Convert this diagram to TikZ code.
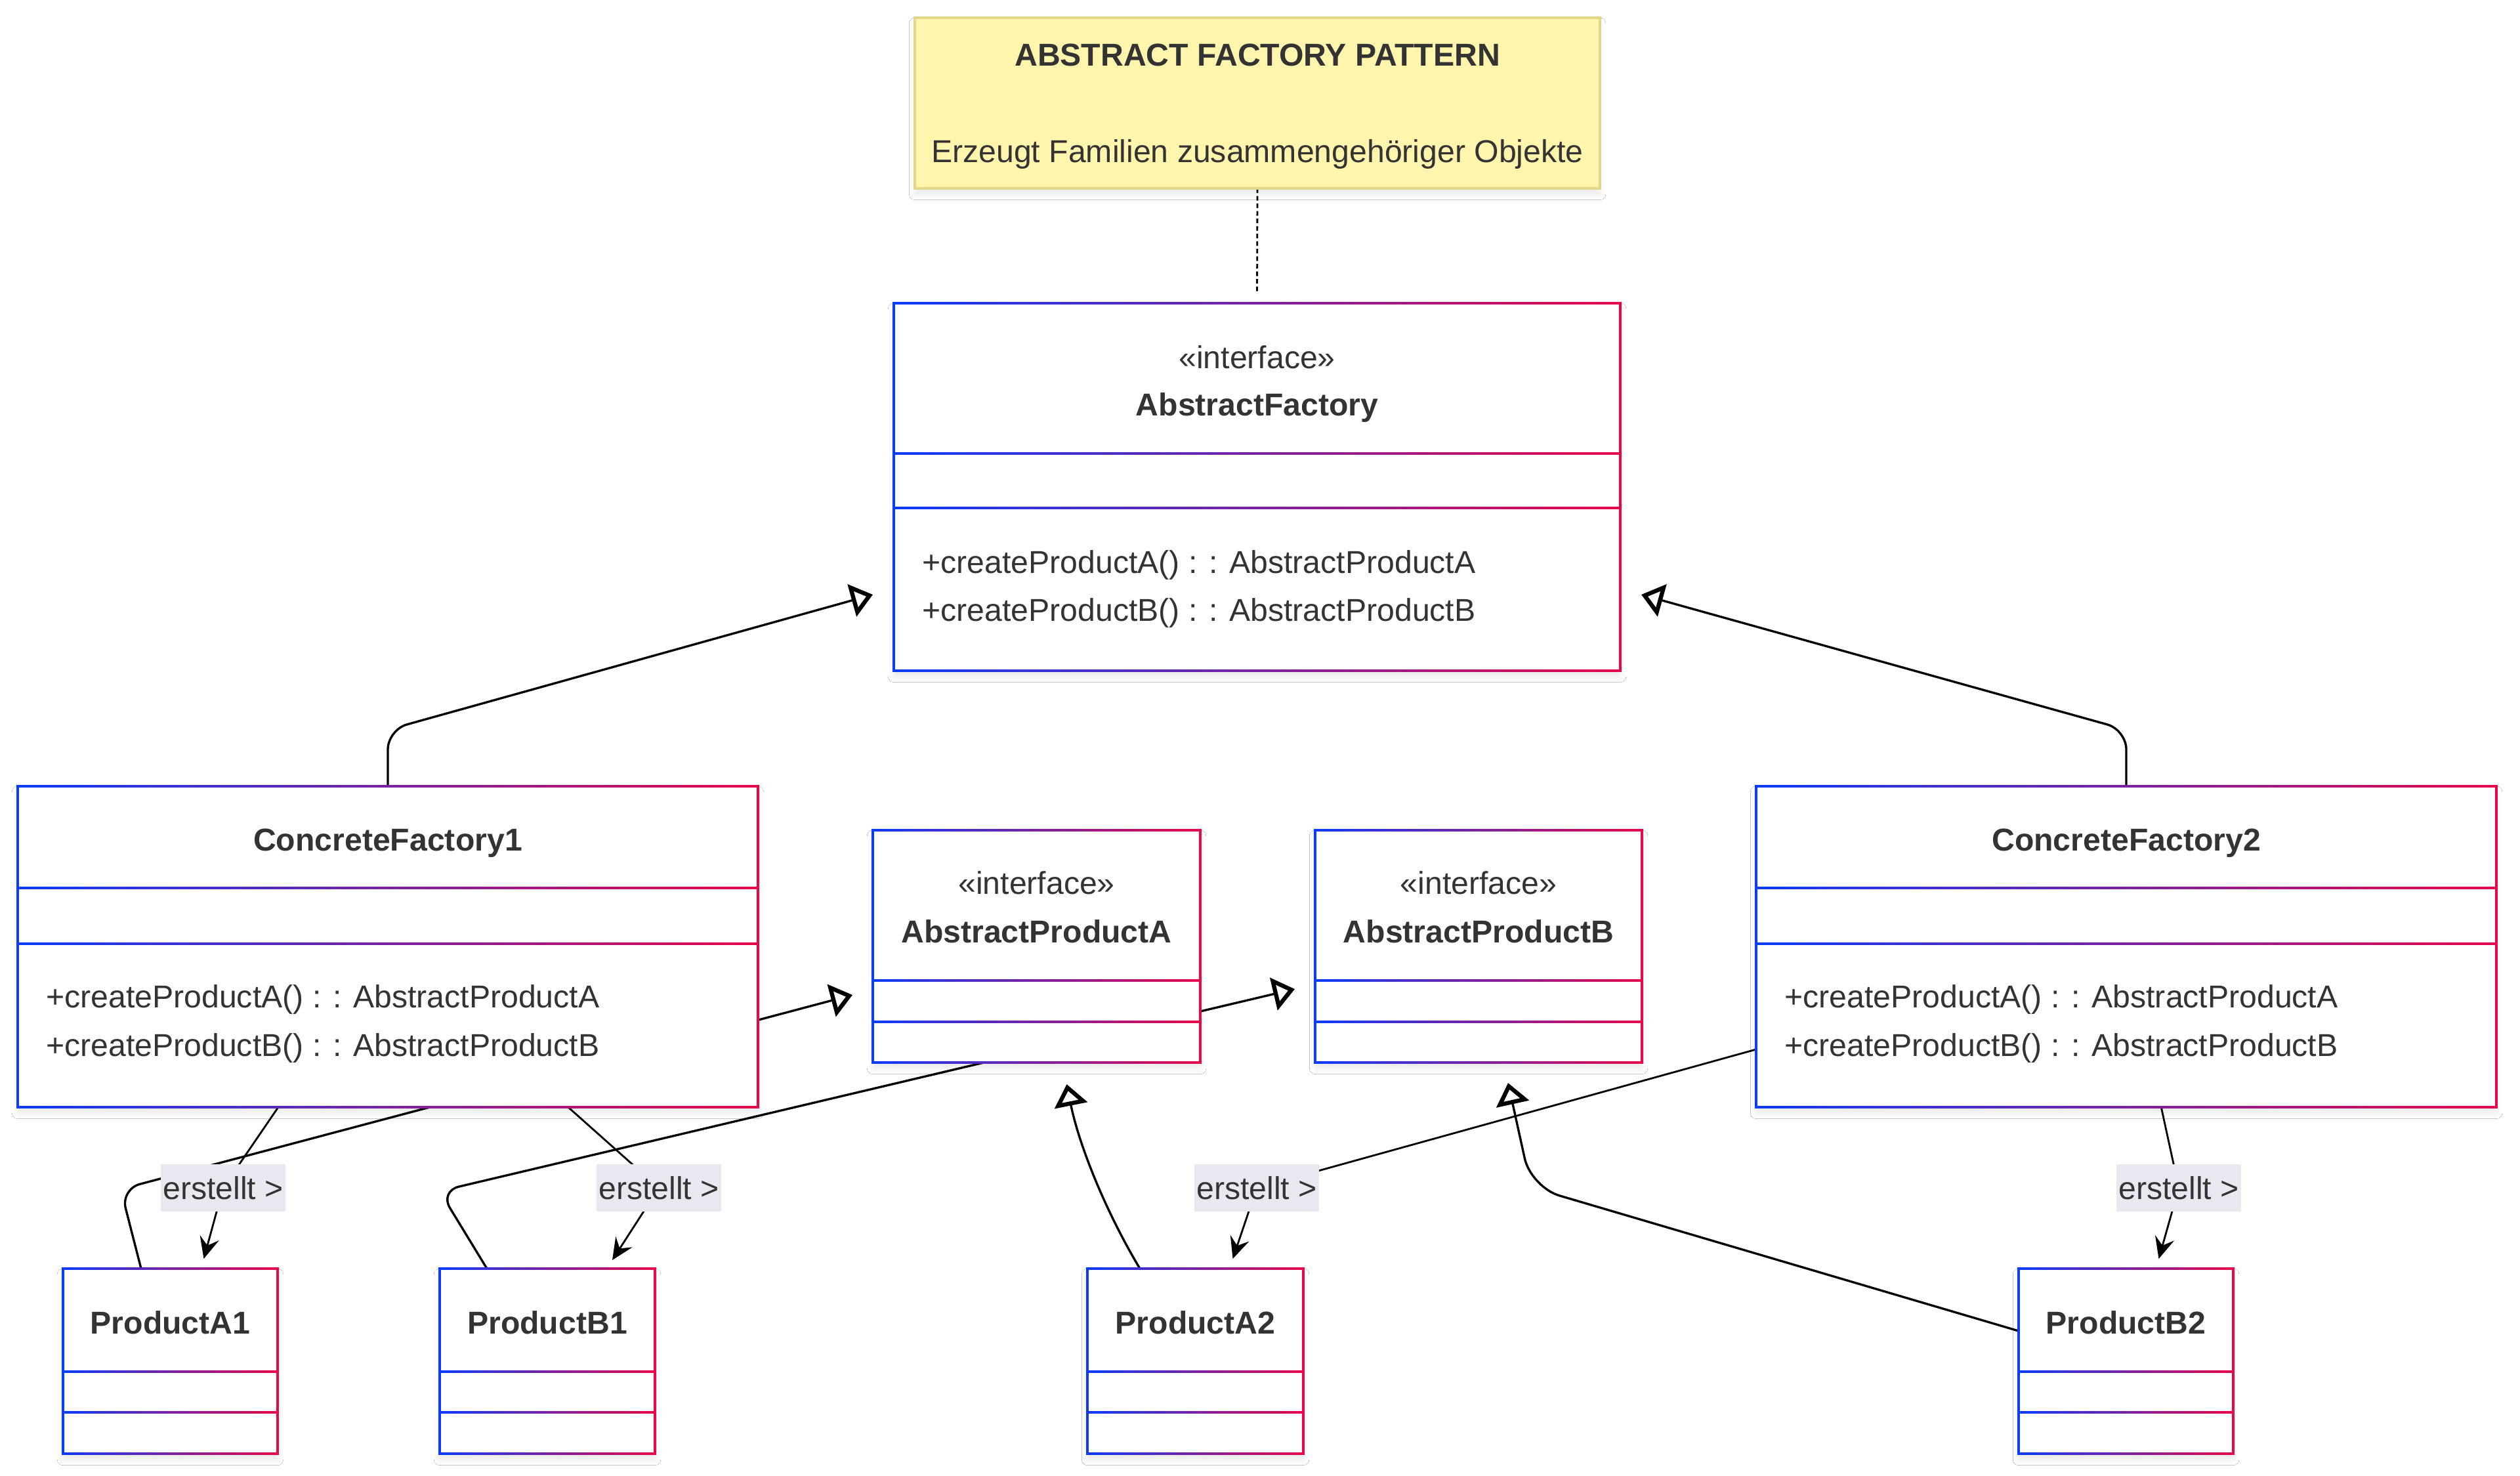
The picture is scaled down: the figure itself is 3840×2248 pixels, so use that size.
\documentclass[tikz,border=0pt]{standalone}
\usepackage{fontspec}
\setmainfont{Liberation Sans}
\usetikzlibrary{arrows.meta,calc,fit,shadows.blur}
\definecolor{cblue}{HTML}{0A3CFA}
\definecolor{cred}{HTML}{E8084A}
\definecolor{txt}{HTML}{333333}
\definecolor{notefill}{HTML}{FFF5AD}
\definecolor{noteline}{HTML}{E3D68A}
\definecolor{lblfill}{HTML}{E8E8F0}
\def\boxlist{AF/1362/462/2469/1022/691/774,
CF1/27/1198/1155/1687/1353/1438,
CF2/2676/1198/3804/1687/1353/1438,
APA/1330/1265/1829/1619/1494/1557,
APB/2004/1265/2502/1619/1494/1557,
PA1/96/1933/423/2215/2090/2152,
PB1/670/1933/998/2215/2090/2152,
PA2/1657/1933/1986/2215/2090/2152,
PB2/3076/1933/3403/2215/2090/2152}
\begin{document}
\begin{tikzpicture}[x=0.01cm,y=-0.01cm,
  font=\fontsize{13.7}{20.5}\selectfont,
  every node/.style={text=txt},
  shadowed/.style={blur shadow={shadow xshift=0pt, shadow yshift=-2.5pt, shadow blur radius=2.5pt, shadow blur steps=6, shadow opacity=9}},
  grad/.style={left color=cblue, right color=cred},
  real/.style={draw=black, line width=0.95pt, rounded corners=0.3cm,
    -{Triangle[open, length=0.33cm, width=0.5cm, line width=1.8pt]}},
  dep/.style={draw=black, line width=0.8pt, -{Stealth[length=0.33cm, width=0.3cm, inset=0.12cm]}},
  lbl/.style={fill=lblfill, inner xsep=1pt, inner ysep=0pt, minimum height=0.72cm},
  ttl/.style={anchor=base, font=\fontsize{13.7}{20.5}\selectfont\bfseries},
  txtn/.style={anchor=base},
  meth/.style={anchor=base west},
  notelink/.style={draw=black, line width=0.8pt, dash pattern=on 0.07cm off 0.045cm},
  hold/.style={inner sep=0pt, outer sep=0pt}]
\fill[white] (0,0) rectangle (3840,2248);
\useasboundingbox (0,0) rectangle (3840,2248);

% ---- node frames (invisible, for anchors)
\node[hold, fit={(1394,27) (2438,287)}] (note) {};
\foreach \n/\a/\b/\c/\d/\s/\t in \boxlist {
  \node[hold, fit={(\a,\b) (\c,\d)}] (\n) {};
}
\coordinate (L1c) at (340,1810);
\coordinate (L2c) at (1004,1810);
\coordinate (L3c) at (1915,1810);
\coordinate (L4c) at (3320,1810);

% ---- connectors (behind boxes)
\draw[notelink] (note.south) -- ($(AF.north)+(0,-15)$);
\draw[real] (CF1.north) -- ++(0,-86) -- ($(AF.south west)+(-32,-116)$);
\draw[real] (CF2.north) -- ++(0,-86) -- ($(AF.south east)+(32,-116)$);
\draw[real] ($(PA1.north west)+(119,0)$) -- ++(-31,-121) -- ($(APA.west)+(-31,74)$);
\draw[real] ($(PB1.north west)+(72,0)$) -- ++(-72,-118) -- ($(APB.west)+(-31,65)$);
\draw[real] ($(PA2.north west)+(80,0)$) .. controls +(-54,-90) and +(18,90) .. ($(APA.south)+(46,33)$);
\draw[real, rounded corners=0.45cm] ($(PB2.north west)+(0,95)$) -- ($(APB.south)+(80,190)$) -- ($(APB.south)+(45,31)$);
\draw[dep] (CF1.center) -- (L1c) -- ($(PA1.north)+(51,-15)$);
\draw[dep] (CF1.center) -- (L2c) -- ($(PB1.north)+(99,-13)$);
\draw[dep] (CF2.center) -- (L3c) -- ($(PA2.north)+(57,-15)$);
\draw[dep] (CF2.center) -- (L4c) -- ($(PB2.north)+(50,-15)$);

% ---- note
\path[fill=notefill, draw=noteline, line width=1.1pt, shadowed] (note.north west) rectangle (note.south east);
\node[ttl] (notetitle) at (1916,100) {ABSTRACT FACTORY PATTERN};
\node[txtn] (notetext) at (1916,247) {Erzeugt Familien zusammengehöriger Objekte};

% ---- class boxes
\foreach \n/\a/\b/\c/\d/\s/\t in \boxlist {
  \path[fill=white, shadowed] (\a,\b) rectangle (\c,\d);
  \shade[grad] ({\a-1.6},{\b-1.6}) rectangle ({\c+1.6},{\b+1.6});
  \shade[grad] ({\a-1.6},{\d-1.6}) rectangle ({\c+1.6},{\d+1.6});
  \shade[grad] (\a,{\s-1.6}) rectangle (\c,{\s+1.6});
  \shade[grad] (\a,{\t-1.6}) rectangle (\c,{\t+1.6});
  \fill[cblue] ({\a-1.6},{\b-1.6}) rectangle ({\a+1.6},{\d+1.6});
  \fill[cred] ({\c-1.6},{\b-1.6}) rectangle ({\c+1.6},{\d+1.6});
}

% ---- texts
\node[txtn] (AFst) at (1915.5,561) {«interface»};
\node[ttl] (AFname) at (1915.5,633) {AbstractFactory};
\node[meth] (AFm1) at (1393,873) {+createProductA() : : AbstractProductA};
\node[meth] (AFm2) at (1393,946) {+createProductB() : : AbstractProductB};

\node[ttl] (CF1name) at (591,1296) {ConcreteFactory1};
\node[meth] (CF1m1) at (58,1535) {+createProductA() : : AbstractProductA};
\node[meth] (CF1m2) at (58,1609) {+createProductB() : : AbstractProductB};

\node[ttl] (CF2name) at (3240,1296) {ConcreteFactory2};
\node[meth] (CF2m1) at (2707,1535) {+createProductA() : : AbstractProductA};
\node[meth] (CF2m2) at (2707,1609) {+createProductB() : : AbstractProductB};

\node[txtn] (APAst) at (1579.5,1362) {«interface»};
\node[ttl] (APAname) at (1579.5,1436) {AbstractProductA};
\node[txtn] (APBst) at (2253,1362) {«interface»};
\node[ttl] (APBname) at (2253,1436) {AbstractProductB};

\node[ttl] (PA1name) at (259.5,2032) {ProductA1};
\node[ttl] (PB1name) at (834,2032) {ProductB1};
\node[ttl] (PA2name) at (1821.5,2032) {ProductA2};
\node[ttl] (PB2name) at (3239.5,2032) {ProductB2};

% ---- labels
\node[lbl] (L1) at (L1c) {erstellt >};
\node[lbl] (L2) at (L2c) {erstellt >};
\node[lbl] (L3) at (L3c) {erstellt >};
\node[lbl] (L4) at (L4c) {erstellt >};
\end{tikzpicture}
\end{document}
